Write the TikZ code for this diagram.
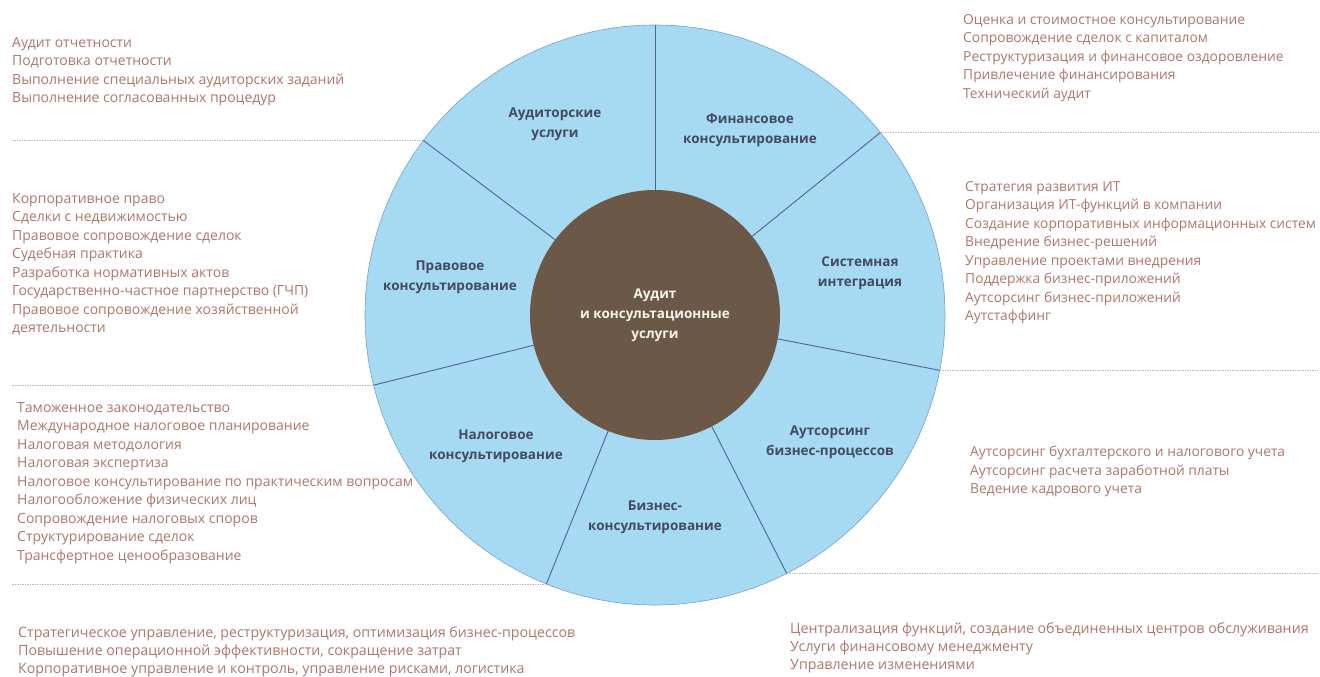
\documentclass[tikz,border=0pt]{standalone}
\usepackage{fontspec}
\setmainfont{Open Sans}
\definecolor{ringblue}{RGB}{166,217,242}
\definecolor{ringedge}{RGB}{120,160,205}
\definecolor{spokec}{RGB}{82,98,150}
\definecolor{hubc}{RGB}{108,88,70}
\definecolor{hubtext}{RGB}{248,244,235}
\definecolor{lblc}{RGB}{68,74,96}
\definecolor{listc}{RGB}{176,118,106}
\definecolor{sepc}{RGB}{190,186,188}
\begin{document}
\begin{tikzpicture}[x=1pt,y=-1pt,
  lst/.style={anchor=north west, inner sep=0pt, align=left, text=listc, font=\fontsize{14}{18.5}\selectfont},
  lstr/.style={lst, font=\fontsize{13.8}{18.5}\selectfont},
  lstb/.style={lst, font=\fontsize{14.2}{18}\selectfont},
  seclabel/.style={align=center, inner sep=0pt, text=lblc, font=\bfseries\fontsize{13.5}{20}\selectfont},
  spokeline/.style={draw=spokec, line width=0.9pt},
  sepline/.style={draw=sepc, line width=0.7pt, dash pattern=on 1.5pt off 1pt}]
\fill[white] (0,0) rectangle (1320,677);
\useasboundingbox (0,0) rectangle (1320,677);
\coordinate (lft) at (12,0);
\coordinate (rgt) at (1318,0);
\node[circle, minimum size=580pt, inner sep=0pt, outer sep=0pt, fill=ringblue, draw=ringedge, line width=0.6pt] (outer) at (655,315) {};
% separators
\draw[sepline] (outer.143) -- (outer.143 -| lft);
\draw[sepline] (outer.194) -- (outer.194 -| lft);
\draw[sepline] (outer.248) -- (outer.248 -| lft);
\draw[sepline] (outer.39) -- (outer.39 -| rgt);
\draw[sepline] (outer.349) -- (outer.349 -| rgt);
\draw[sepline] (outer.297) -- (outer.297 -| rgt);
\node[circle, minimum size=250pt, inner sep=0pt, outer sep=0pt, fill=hubc, text=hubtext, align=center, font=\bfseries\fontsize{13.5}{20}\selectfont] (hub) at (655,315) {Аудит\\и консультационные\\услуги};
\foreach \a in {90,143,194,248,297,349,39} \draw[spokeline] (hub.\a) -- (outer.\a);
% sector labels
\node[seclabel] (aud) at (555,124) {Аудиторские\\услуги};
\node[seclabel] (fin) at (750,130) {Финансовое\\консультирование};
\node[seclabel] (sys) at (860,273) {Системная\\интеграция};
\node[seclabel] (prav) at (450,277) {Правовое\\консультирование};
\node[seclabel] (nal) at (496,446) {Налоговое\\консультирование};
\node[seclabel] (biz) at (655,517) {Бизнес-\\консультирование};
\node[seclabel] (outs) at (830,442) {Аутсорсинг\\бизнес-процессов};
% lists
\node[lst] (l1) at (12,37) {Аудит отчетности\\Подготовка отчетности\\Выполнение специальных аудиторских заданий\\Выполнение согласованных процедур};
\node[lstr] (r1) at (963,14) {Оценка и стоимостное консультирование\\Сопровождение сделок с капиталом\\Реструктуризация и финансовое оздоровление\\Привлечение финансирования\\Технический аудит};
\node[lst] (l2) at (12,193) {Корпоративное право\\Сделки с недвижимостью\\Правовое сопровождение сделок\\Судебная практика\\Разработка нормативных актов\\Государственно-частное партнерство (ГЧП)\\Правовое сопровождение хозяйственной\\деятельности};
\node[lstr] (r2) at (965,181) {Стратегия развития ИТ\\Организация ИТ-функций в компании\\Создание корпоративных информационных систем\\Внедрение бизнес-решений\\Управление проектами внедрения\\Поддержка бизнес-приложений\\Аутсорсинг бизнес-приложений\\Аутстаффинг};
\node[lst] (l3) at (17,402) {Таможенное законодательство\\Международное налоговое планирование\\Налоговая методология\\Налоговая экспертиза\\Налоговое консультирование по практическим вопросам\\Налогообложение физических лиц\\Сопровождение налоговых споров\\Структурирование сделок\\Трансфертное ценообразование};
\node[lstr] (r3) at (970,446) {Аутсорсинг бухгалтерского и налогового учета\\Аутсорсинг расчета заработной платы\\Ведение кадрового учета};
\node[lstb] (l4) at (18,626) {Стратегическое управление, реструктуризация, оптимизация бизнес-процессов\\Повышение операционной эффективности, сокращение затрат\\Корпоративное управление и контроль, управление рисками, логистика};
\node[lstb] (r4) at (790,622) {Централизация функций, создание объединенных центров обслуживания\\Услуги финансовому менеджменту\\Управление изменениями};
\end{tikzpicture}
\end{document}
